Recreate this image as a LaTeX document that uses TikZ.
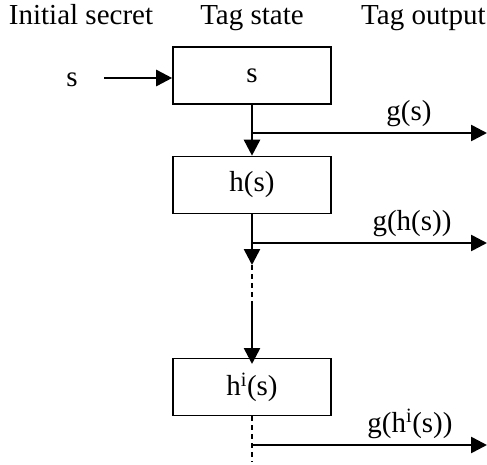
\documentclass[tikz,border=0pt]{standalone}
\usepackage{fontspec}
\setmainfont{Liberation Serif}
\usetikzlibrary{arrows.meta}
\begin{document}
\begin{tikzpicture}[x=1pt,y=-1pt,
  font=\fontsize{29}{34}\selectfont,
  statebox/.style={draw,line width=1.6pt,minimum width=158pt,minimum height=57pt,inner sep=0pt},
  arr/.style={line width=2.6pt,-{Triangle[length=16pt,width=16pt]}},
  dsh/.style={line width=1.7pt,dash pattern=on 5pt off 4pt},
  lbl/.style={anchor=base,inner sep=0pt}]
\useasboundingbox (0,0) rectangle (487,464);
% headers
\node[lbl] (h1) at (81,24) {Initial secret};
\node[lbl] (h2) at (252,24) {Tag state};
\node[lbl,anchor=base west] (h3) at (361,24) {Tag output};
% boxes
\node[statebox] (b1) at (252,75.5) {\raisebox{-2pt}{s}};
\node[statebox] (b2) at (252,185) {h(s)};
\node[statebox] (b3) at (252,387) {h\textsuperscript{i}(s)};
% input
\node[lbl] (sin) at (72,86) {s};
\coordinate (sstart) at (104,78);
\draw[arr] (sstart) -- (b1.west |- sstart);
% chain
\draw[arr] (b1.south) -- (b2.north);
\coordinate (j1) at (252,133);
\coordinate (o1) at (487,133);
\draw[arr] (j1) -- (o1);
\node[lbl] (g1) at (409,120) {g(s)};
\coordinate (a2) at (252,265);
\draw[arr] (b2.south) -- (a2);
\coordinate (j2) at (252,243);
\coordinate (o2) at (487,243);
\draw[arr] (j2) -- (o2);
\node[lbl] (g2) at (412,230) {g(h(s))};
\coordinate (d2) at (252,305);
\draw[dsh] (a2) -- (d2);
\coordinate (a3) at (252,364);
\draw[arr] (d2) -- (a3);
\coordinate (dend) at (252,462);
\draw[dsh] (b3.south) -- (dend);
\coordinate (j3) at (252,445);
\coordinate (o3) at (487,445);
\draw[arr] (j3) -- (o3);
\node[lbl] (g3) at (410,432) {g(h\textsuperscript{i}(s))};
\end{tikzpicture}
\end{document}
